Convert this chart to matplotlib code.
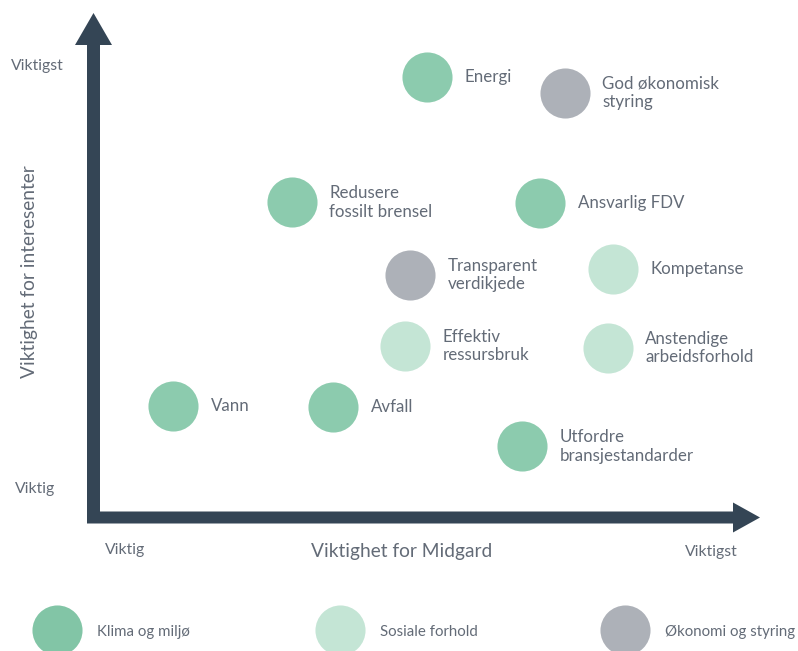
import matplotlib.pyplot as plt
from matplotlib.patches import FancyArrow

plt.rcParams['font.family'] = ['Lato', 'DejaVu Sans']

# importance scores (0-100)
topics = ["Energi", "God økonomisk\nstyring", "Redusere\nfossilt brensel", "Ansvarlig FDV",
          "Transparent\nverdikjede", "Kompetanse", "Effektiv\nressursbruk",
          "Anstendige\narbeidsforhold", "Vann", "Avfall", "Utfordre\nbransjestandarder"]
midgard = [49.8, 70.6, 29.5, 66.9, 47.3, 77.9, 46.5, 77.1, 11.6, 35.7, 64.2]
interessenter = [87.6, 84.5, 62.7, 62.5, 48.2, 49.4, 34.1, 33.7, 22.1, 21.9, 14.1]
group = ["klima", "okonomi", "klima", "klima", "okonomi", "sosial", "sosial",
         "sosial", "klima", "klima", "klima"]

groups = ["klima", "sosial", "okonomi"]
group_names = ["Klima og miljø", "Sosiale forhold", "Økonomi og styring"]
colors = {"klima": "#8CCBAE", "sosial": "#C4E5D5", "okonomi": "#ADB1B8"}
legend_colors = {"klima": "#82C5A6", "sosial": "#C4E5D5", "okonomi": "#ADB1B8"}

dark = "#344555"
txt = "#636B77"

fig = plt.figure(figsize=(7.98, 6.51), dpi=100)

# background layer in pixel units for arrows, axis texts and legend
bg = fig.add_axes([0, 0, 1, 1])
bg.set_xlim(0, 798)
bg.set_ylim(651, 0)
bg.axis("off")

bg.add_patch(FancyArrow(93.5, 523, 0, -510, width=13, head_width=37, head_length=32,
                        length_includes_head=True, color=dark, lw=0))
bg.add_patch(FancyArrow(87, 517.5, 673, 0, width=12, head_width=30, head_length=27,
                        length_includes_head=True, color=dark, lw=0))

bg.text(37, 66, "Viktigst", color=txt, fontsize=11.3, ha="center", va="center")
bg.text(35, 489, "Viktig", color=txt, fontsize=11.3, ha="center", va="center")
bg.text(125, 550, "Viktig", color=txt, fontsize=11.3, ha="center", va="center")
bg.text(711, 552, "Viktigst", color=txt, fontsize=11.3, ha="center", va="center")
bg.text(402, 552, "Viktighet for Midgard", color=txt, fontsize=13.8, ha="center", va="center")
bg.text(30, 272, "Viktighet for interesenter", color=txt, fontsize=13.8, ha="center",
        va="center", rotation=90)

leg_x = [57, 340, 625]
for g, name, lx in zip(groups, group_names, leg_x):
    bg.scatter([lx], [630], s=1300, color=legend_colors[g], lw=0)
    bg.text(lx + 40, 632, name, color=txt, fontsize=10.8, ha="left", va="center")

# data layer
ax = fig.add_axes([96 / 798, (651 - 517) / 651, 664 / 798, 502 / 651])
ax.set_xlim(0, 100)
ax.set_ylim(0, 100)
ax.axis("off")
ax.patch.set_alpha(0)

for t, x, y, g in zip(topics, midgard, interessenter, group):
    ax.scatter([x], [y], s=1300, color=colors[g], lw=0, clip_on=False, zorder=3)
    ax.annotate(t, (x, y), xytext=(27, 0), textcoords="offset points", color=txt,
                fontsize=12.2, ha="left", va="center", linespacing=1.2)

fig.savefig("out.png", dpi=100)
